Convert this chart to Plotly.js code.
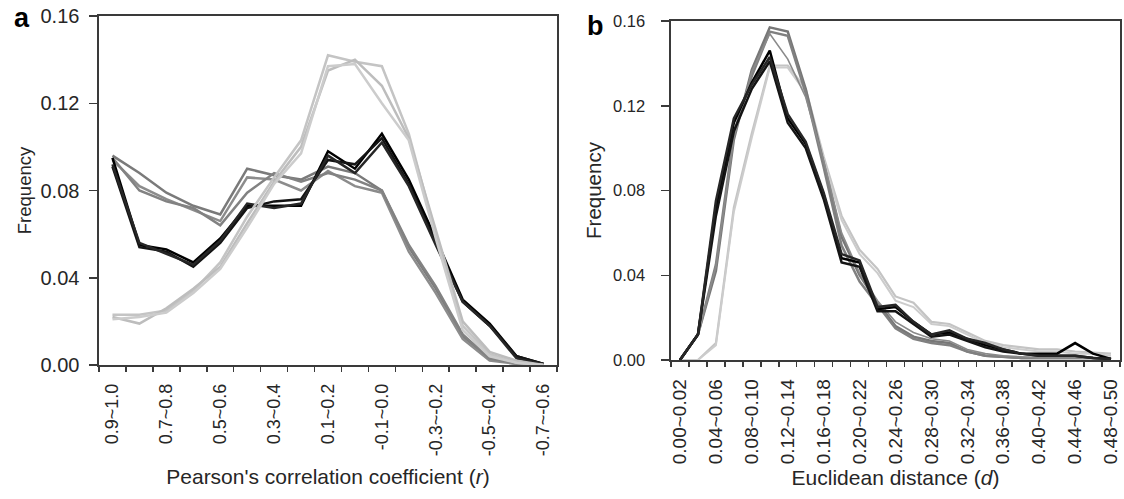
<!DOCTYPE html>
<html>
<head>
<meta charset="utf-8">
<script src="https://cdn.plot.ly/plotly-3.0.1.min.js"></script>
<style>html,body{margin:0;padding:0;background:#fff;}#chart{width:1124px;height:499px;}</style>
</head>
<body>
<div id="chart"></div>
<script>
// ---------- Panel a: Pearson's correlation coefficient ----------
const catsA = ['0.9~1.0','0.8~0.9','0.7~0.8','0.6~0.7','0.5~0.6','0.4~0.5','0.3~0.4','0.2~0.3','0.1~0.2','0.0~0.1','-0.1~0.0','-0.2~-0.1','-0.3~-0.2','-0.4~-0.3','-0.5~-0.4','-0.6~-0.5','-0.7~-0.6'];
const aBlack1 = [0.095,0.055,0.053,0.047,0.058,0.073,0.073,0.073,0.098,0.090,0.106,0.085,0.058,0.030,0.019,0.004,0.0005];
const aBlack2 = [0.091,0.054,0.052,0.045,0.056,0.072,0.075,0.076,0.094,0.092,0.104,0.083,0.056,0.029,0.018,0.004,0.0005];
const aBlack3 = [0.092,0.056,0.051,0.046,0.057,0.074,0.072,0.074,0.096,0.088,0.102,0.082,0.055,0.029,0.018,0.003,0.0005];
const aGray1  = [0.096,0.088,0.079,0.073,0.069,0.090,0.087,0.085,0.091,0.088,0.080,0.054,0.035,0.013,0.003,0.0005,0];
const aGray2  = [0.094,0.082,0.076,0.071,0.066,0.086,0.085,0.080,0.089,0.082,0.079,0.052,0.033,0.012,0.002,0.0005,0];
const aGray3  = [0.095,0.080,0.075,0.072,0.064,0.079,0.088,0.084,0.088,0.085,0.080,0.055,0.036,0.014,0.003,0.001,0];
const aLight1 = [0.023,0.023,0.025,0.034,0.047,0.068,0.086,0.103,0.142,0.139,0.137,0.106,0.060,0.018,0.005,0.001,0];
const aLight2 = [0.022,0.019,0.026,0.035,0.045,0.065,0.084,0.100,0.135,0.140,0.128,0.104,0.062,0.020,0.006,0.002,0];
const aLight3 = [0.021,0.022,0.024,0.033,0.044,0.063,0.083,0.097,0.137,0.138,0.120,0.103,0.058,0.016,0.004,0.001,0];

// ---------- Panel b: Euclidean distance ----------
const catsB = ['0.00~0.02','0.02~0.04','0.04~0.06','0.06~0.08','0.08~0.10','0.10~0.12','0.12~0.14','0.14~0.16','0.16~0.18','0.18~0.20','0.20~0.22','0.22~0.24','0.24~0.26','0.26~0.28','0.28~0.30','0.30~0.32','0.32~0.34','0.34~0.36','0.36~0.38','0.38~0.40','0.40~0.42','0.42~0.44','0.44~0.46','0.46~0.48','0.48~0.50'];
const bBlack1 = [0,0.012,0.072,0.112,0.131,0.146,0.114,0.102,0.078,0.048,0.046,0.024,0.025,0.018,0.012,0.013,0.010,0.007,0.005,0.003,0.003,0.003,0.008,0.003,0.0005];
const bBlack2 = [0,0.012,0.068,0.108,0.128,0.141,0.112,0.100,0.076,0.046,0.044,0.023,0.023,0.017,0.011,0.012,0.009,0.006,0.004,0.003,0.002,0.002,0.002,0.001,0.0005];
const bBlack3 = [0,0.012,0.075,0.114,0.130,0.143,0.116,0.103,0.079,0.050,0.047,0.025,0.026,0.018,0.012,0.014,0.010,0.008,0.005,0.003,0.002,0.002,0.002,0.001,0.0005];
const bGray1  = [0,0.012,0.042,0.104,0.137,0.157,0.155,0.128,0.093,0.058,0.040,0.027,0.016,0.011,0.009,0.008,0.004,0.002,0.0015,0.001,0.001,0.001,0.001,0.001,0.0005];
const bGray2  = [0,0.012,0.045,0.107,0.134,0.155,0.153,0.126,0.091,0.054,0.037,0.026,0.015,0.010,0.008,0.007,0.004,0.002,0.0015,0.001,0.001,0.001,0.001,0.001,0.0005];
const bGray3  = [0,0.012,0.044,0.105,0.136,0.154,0.142,0.124,0.094,0.060,0.041,0.028,0.018,0.013,0.010,0.009,0.005,0.003,0.002,0.0015,0.001,0.001,0.001,0.001,0.0005];
const bLight1 = [0,0,0.008,0.072,0.107,0.139,0.139,0.128,0.096,0.068,0.052,0.043,0.030,0.027,0.018,0.017,0.013,0.009,0.007,0.006,0.005,0.005,0.004,0.0035,0.003];
const bLight2 = [0,0,0.007,0.070,0.105,0.138,0.138,0.126,0.094,0.066,0.050,0.041,0.028,0.025,0.017,0.016,0.012,0.008,0.006,0.005,0.004,0.004,0.003,0.003,0.002];

const yTicks = [0, 0.04, 0.08, 0.12, 0.16];

const idx = arr => arr.map((_, i) => i);
const bounds = arr => Array.from({length: arr.length + 1}, (_, i) => i - 0.5);
const everyOther = arr => arr.filter((_, i) => i % 2 === 0);

function line(cats, vals, color, width, xa, ya) {
  return {type: 'scatter', mode: 'lines', x: idx(cats), y: vals, xaxis: xa, yaxis: ya,
          line: {color: color, width: width}, hoverinfo: 'skip', showlegend: false};
}

const cBlack = ['#000000', '#141414', '#262626'];
const cGray = ['#7a7a7a', '#8c8c8c', '#828282'];
const cLight = ['#c4c4c4', '#bdbdbd', '#cccccc'];
const W = 2.5;

const data = [
  line(catsA, aGray1, cGray[0], W, 'x', 'y'),
  line(catsA, aGray2, cGray[1], W, 'x', 'y'),
  line(catsA, aGray3, cGray[2], W, 'x', 'y'),
  line(catsA, aBlack1, cBlack[0], W, 'x', 'y'),
  line(catsA, aBlack2, cBlack[1], W, 'x', 'y'),
  line(catsA, aBlack3, cBlack[2], W, 'x', 'y'),
  line(catsA, aLight1, cLight[0], W, 'x', 'y'),
  line(catsA, aLight2, cLight[1], W, 'x', 'y'),
  line(catsA, aLight3, cLight[2], W, 'x', 'y'),
  line(catsB, bLight1, cLight[0], 2.2, 'x2', 'y2'),
  line(catsB, bLight2, cLight[2], 2.0, 'x2', 'y2'),
  line(catsB, bGray1, '#777777', W, 'x2', 'y2'),
  line(catsB, bGray2, '#808080', W, 'x2', 'y2'),
  line(catsB, bGray3, '#8a8a8a', 1.6, 'x2', 'y2'),
  line(catsB, bBlack1, cBlack[0], W, 'x2', 'y2'),
  line(catsB, bBlack2, cBlack[1], W, 'x2', 'y2'),
  line(catsB, bBlack3, cBlack[2], W, 'x2', 'y2'),
  {type: 'scatter', x: [], y: [], xaxis: 'x3', yaxis: 'y', showlegend: false, hoverinfo: 'skip'},
  {type: 'scatter', x: [], y: [], xaxis: 'x4', yaxis: 'y2', showlegend: false, hoverinfo: 'skip'}
];

const FONT = 'Liberation Sans, Arial, sans-serif';
const axisColor = '#3a3a3a';
const txt = '#262626';

const W_PX = 1124, H_PX = 499;
const px = (a, b) => [a / W_PX, b / W_PX];
const py = (top, bottom) => [(H_PX - bottom) / H_PX, (H_PX - top) / H_PX];

function labelAxis(cats, dom, anchor, titleHtml, tickSize, titleSize, standoff) {
  return {
    domain: dom, anchor: anchor, type: 'linear', range: [-0.5, cats.length - 0.5],
    tickmode: 'array', tickvals: everyOther(idx(cats)), ticktext: everyOther(cats),
    tickangle: -90, ticks: '', ticklabelstandoff: 10,
    tickfont: {family: FONT, size: tickSize, color: txt},
    showline: true, mirror: true, linecolor: axisColor, linewidth: 1.6,
    showgrid: false, zeroline: false,
    title: {text: titleHtml, font: {family: FONT, size: titleSize, color: txt}, standoff: standoff}
  };
}
function tickAxis(cats, overlay, anchor) {
  return {
    overlaying: overlay, anchor: anchor, side: 'bottom', type: 'linear',
    range: [-0.5, cats.length - 0.5], tickmode: 'array', tickvals: bounds(cats),
    showticklabels: false, ticks: 'outside', ticklen: 6, tickwidth: 1.5, tickcolor: axisColor,
    showline: false, showgrid: false, zeroline: false
  };
}
function yAxis(dom, anchor, tickSize, titleSize, standoff, labelGap) {
  return {
    domain: dom, anchor: anchor, range: [0, 0.16], tickmode: 'array', tickvals: yTicks,
    tickformat: '.2f', ticks: 'outside', ticklen: 8, tickwidth: 1.5, tickcolor: axisColor,
    ticklabelstandoff: labelGap,
    tickfont: {family: FONT, size: tickSize, color: txt},
    showline: true, mirror: true, linecolor: axisColor, linewidth: 1.6,
    showgrid: false, zeroline: false,
    title: {text: 'Frequency', font: {family: FONT, size: titleSize, color: txt}, standoff: standoff}
  };
}

const layout = {
  width: W_PX, height: H_PX,
  margin: {l: 0, r: 0, t: 0, b: 0},
  paper_bgcolor: '#fff', plot_bgcolor: '#fff',
  showlegend: false,
  xaxis: labelAxis(catsA, px(99, 557), 'y', "Pearson's correlation coefficient (<i>r</i>)", 18, 21, 14),
  yaxis: yAxis(py(16, 365), 'x', 20, 18.5, 4, 6),
  xaxis2: labelAxis(catsB, px(671, 1120), 'y2', 'Euclidean distance (<i>d</i>)', 19, 21, 7),
  yaxis2: yAxis(py(21, 360), 'x2', 16.5, 20.5, 6, 13),
  xaxis3: tickAxis(catsA, 'x', 'y'),
  xaxis4: tickAxis(catsB, 'x2', 'y2'),
  annotations: [
    {text: '<b>a</b>', xref: 'paper', yref: 'paper', x: 22 / W_PX, y: (H_PX - 18) / H_PX,
     xanchor: 'center', yanchor: 'middle', showarrow: false, font: {family: FONT, size: 27, color: '#000'}},
    {text: '<b>b</b>', xref: 'paper', yref: 'paper', x: 595 / W_PX, y: (H_PX - 26) / H_PX,
     xanchor: 'center', yanchor: 'middle', showarrow: false, font: {family: FONT, size: 27, color: '#000'}}
  ]
};

Plotly.newPlot('chart', data, layout, {staticPlot: true, displayModeBar: false});
</script>
</body>
</html>
